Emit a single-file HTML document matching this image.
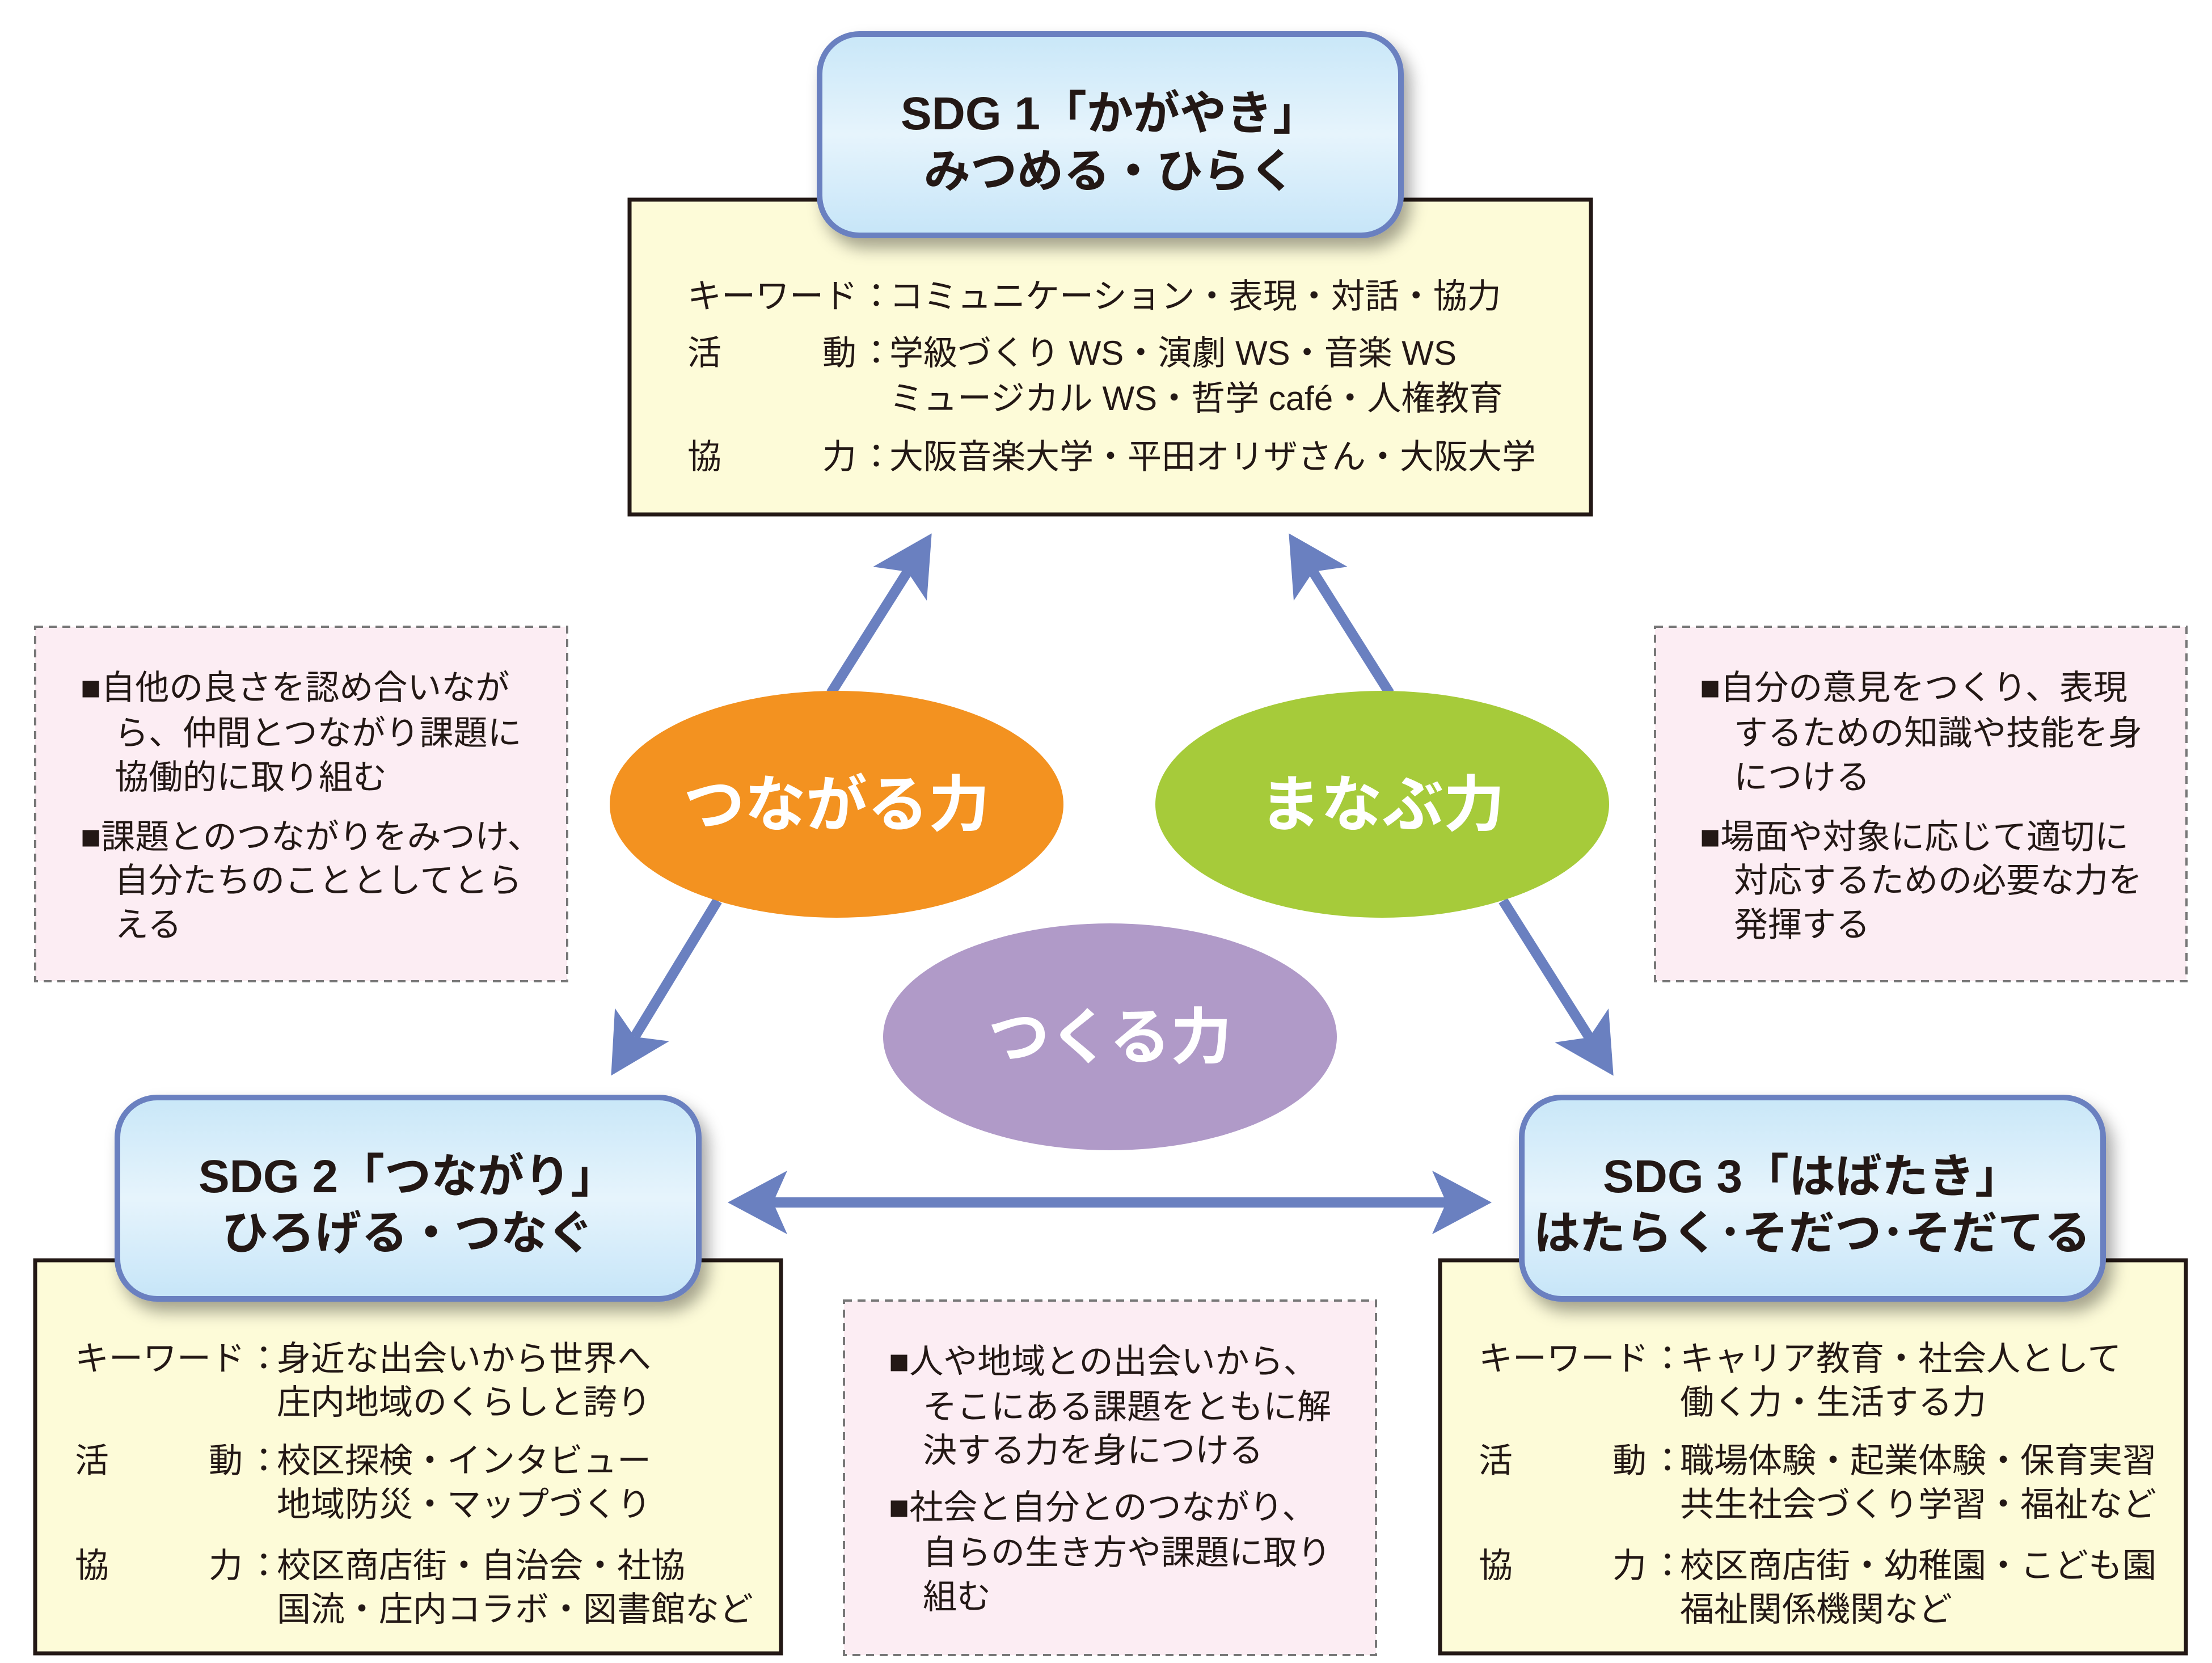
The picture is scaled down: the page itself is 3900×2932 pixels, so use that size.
<!DOCTYPE html>
<html><head><meta charset="utf-8"><style>
html,body{margin:0;padding:0;background:#fff}
svg{display:block}
text{font-family:"Liberation Sans","Noto Sans CJK JP",sans-serif;fill:#231815}
.t{font-size:60px}
.h{font-size:82px;font-weight:bold}
.e{font-size:108px;font-weight:bold;fill:#fff}
</style></head><body>
<svg width="3900" height="2932" viewBox="0 0 3900 2932" xmlns="http://www.w3.org/2000/svg">
<defs>
<linearGradient id="bg" x1="0" y1="0" x2="0" y2="1">
<stop offset="0" stop-color="#c9e7f8"/><stop offset="0.5" stop-color="#e6f4fc"/><stop offset="1" stop-color="#c6e5f8"/>
</linearGradient>
<filter id="sh" x="-10%" y="-10%" width="130%" height="140%"><feDropShadow dx="12" dy="18" stdDeviation="14" flood-color="#000" flood-opacity="0.35"/></filter>
<marker id="ah" markerUnits="userSpaceOnUse" markerWidth="110" markerHeight="120" refX="25" refY="56" orient="auto-start-reverse" viewBox="0 0 110 112">
<path d="M0,0 L105,56 L0,112 L25,56 z" fill="#6a80c0"/>
</marker>
</defs>

<!-- yellow boxes -->
<rect x="1110" y="352" width="1695" height="555" fill="#fdfbd8" stroke="#231815" stroke-width="7"/>
<rect x="62" y="2222" width="1315" height="693" fill="#fdfbd8" stroke="#231815" stroke-width="7"/>
<rect x="2539" y="2222" width="1315" height="693" fill="#fdfbd8" stroke="#231815" stroke-width="7"/>

<!-- pink dashed boxes -->
<rect x="62" y="1105" width="938" height="625" fill="#fcedf3" stroke="#777" stroke-width="4" stroke-dasharray="14,10"/>
<rect x="2918" y="1105" width="937" height="625" fill="#fcedf3" stroke="#777" stroke-width="4" stroke-dasharray="14,10"/>
<rect x="1488" y="2293" width="938" height="625" fill="#fcedf3" stroke="#777" stroke-width="4" stroke-dasharray="14,10"/>

<!-- blue title boxes -->
<rect x="1445" y="60" width="1025" height="355" rx="70" fill="url(#bg)" stroke="#6a80c0" stroke-width="10" filter="url(#sh)"/>
<rect x="207" y="1935" width="1025" height="355" rx="70" fill="url(#bg)" stroke="#6a80c0" stroke-width="10" filter="url(#sh)"/>
<rect x="2683" y="1935" width="1025" height="355" rx="70" fill="url(#bg)" stroke="#6a80c0" stroke-width="10" filter="url(#sh)"/>

<text class="h" x="1957" y="228" text-anchor="middle">SDG 1「かがやき」</text>
<text class="h" x="1957" y="330" text-anchor="middle">みつめる・ひらく</text>
<text class="h" x="719" y="2102" text-anchor="middle">SDG 2「つながり」</text>
<text class="h" x="719" y="2202" text-anchor="middle">ひろげる・つなぐ</text>
<text class="h" x="3195" y="2102" text-anchor="middle">SDG 3「はばたき」</text>
<text class="h" x="3195" y="2202" text-anchor="middle">はたらく･そだつ･そだてる</text>

<!-- arrows -->
<g stroke="#6a80c0" stroke-width="18" fill="none">
<line x1="1465" y1="1222" x2="1600" y2="1008" marker-end="url(#ah)"/>
<line x1="1265" y1="1588" x2="1119" y2="1828" marker-end="url(#ah)"/>
<line x1="2450" y1="1222" x2="2315" y2="1008" marker-end="url(#ah)"/>
<line x1="2650" y1="1588" x2="2802" y2="1829" marker-end="url(#ah)"/>
<line x1="1363" y1="2120" x2="2550" y2="2120" marker-start="url(#ah)" marker-end="url(#ah)"/>
</g>

<!-- ellipses -->
<ellipse cx="1475" cy="1418" rx="400" ry="200" fill="#f39220"/>
<ellipse cx="2437" cy="1418" rx="400" ry="200" fill="#a6cb3a"/>
<ellipse cx="1957" cy="1828" rx="400" ry="200" fill="#b09ac8"/>
<text class="e" x="1475" y="1456" text-anchor="middle">つながる力</text>
<text class="e" x="2437" y="1456" text-anchor="middle">まなぶ力</text>
<text class="e" x="1957" y="1866" text-anchor="middle">つくる力</text>

<!-- top box text -->
<g class="t">
<text x="1212" y="543">キーワード</text><text x="1515" y="543">：</text><text x="1568" y="543">コミュニケーション・表現・対話・協力</text>
<text x="1212" y="643">活</text><text x="1450" y="643">動</text><text x="1515" y="643">：</text><text x="1568" y="643">学級づくり WS・演劇 WS・音楽 WS</text>
<text x="1568" y="723">ミュージカル WS・哲学 café・人権教育</text>
<text x="1212" y="826">協</text><text x="1450" y="826">力</text><text x="1515" y="826">：</text><text x="1568" y="826">大阪音楽大学・平田オリザさん・大阪大学</text>
</g>

<!-- SDG2 text -->
<g class="t">
<text x="132" y="2416">キーワード</text><text x="435" y="2416">：</text><text x="488" y="2416">身近な出会いから世界へ</text>
<text x="488" y="2493">庄内地域のくらしと誇り</text>
<text x="132" y="2596">活</text><text x="368" y="2596">動</text><text x="435" y="2596">：</text><text x="488" y="2596">校区探検・インタビュー</text>
<text x="488" y="2673">地域防災・マップづくり</text>
<text x="132" y="2781">協</text><text x="368" y="2781">力</text><text x="435" y="2781">：</text><text x="488" y="2781">校区商店街・自治会・社協</text>
<text x="488" y="2858">国流・庄内コラボ・図書館など</text>
</g>

<!-- SDG3 text -->
<g class="t">
<text x="2607" y="2416">キーワード</text><text x="2910" y="2416">：</text><text x="2962" y="2416">キャリア教育・社会人として</text>
<text x="2962" y="2493">働く力・生活する力</text>
<text x="2607" y="2596">活</text><text x="2843" y="2596">動</text><text x="2910" y="2596">：</text><text x="2962" y="2596">職場体験・起業体験・保育実習</text>
<text x="2962" y="2673">共生社会づくり学習・福祉など</text>
<text x="2607" y="2781">協</text><text x="2843" y="2781">力</text><text x="2910" y="2781">：</text><text x="2962" y="2781">校区商店街・幼稚園・こども園</text>
<text x="2962" y="2858">福祉関係機関など</text>
</g>

<!-- pink texts -->
<g class="t">
<text x="142" y="1233">■自他の良さを認め合いなが</text>
<text x="202" y="1313">ら、仲間とつながり課題に</text>
<text x="202" y="1391">協働的に取り組む</text>
<text x="142" y="1496">■課題とのつながりをみつけ、</text>
<text x="202" y="1573">自分たちのこととしてとら</text>
<text x="202" y="1651">える</text>

<text x="2997" y="1233">■自分の意見をつくり、表現</text>
<text x="3057" y="1313">するための知識や技能を身</text>
<text x="3057" y="1391">につける</text>
<text x="2997" y="1496">■場面や対象に応じて適切に</text>
<text x="3057" y="1573">対応するための必要な力を</text>
<text x="3057" y="1651">発揮する</text>

<text x="1567" y="2421">■人や地域との出会いから、</text>
<text x="1627" y="2501">そこにある課題をともに解</text>
<text x="1627" y="2578">決する力を身につける</text>
<text x="1567" y="2678">■社会と自分とのつながり、</text>
<text x="1627" y="2758">自らの生き方や課題に取り</text>
<text x="1627" y="2836">組む</text>
</g>
</svg>
</body></html>
